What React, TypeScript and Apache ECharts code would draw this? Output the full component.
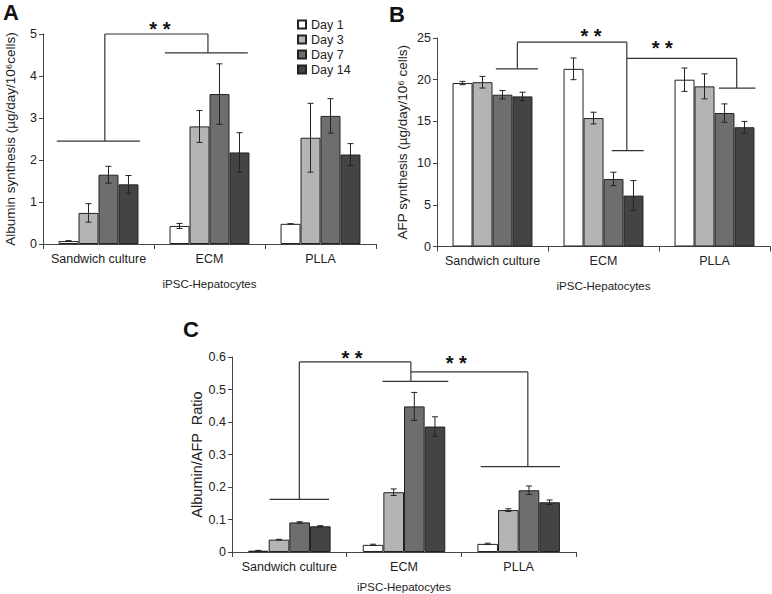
import React, { useEffect, useRef } from "react";
import * as echarts from "echarts";

const categories = ["Sandwich culture", "ECM", "PLLA"];
const days = ["Day 1", "Day 3", "Day 7", "Day 14"];
const dayColors = ["#ffffff", "#b4b4b4", "#6e6e6e", "#444444"];

// Panel A: albumin synthesis (per day: Sandwich, ECM, PLLA)
const albuminMeans = [
  [0.07, 0.43, 0.48],
  [0.74, 2.8, 2.53],
  [1.65, 3.57, 3.05],
  [1.42, 2.18, 2.13],
];
const albuminErrors = [
  [0.01, 0.06, 0.0],
  [0.22, 0.38, 0.82],
  [0.2, 0.72, 0.41],
  [0.21, 0.47, 0.26],
];

// Panel B: AFP synthesis
const afpMeans = [
  [19.6, 21.3, 20.0],
  [19.7, 15.4, 19.2],
  [18.2, 8.1, 16.0],
  [18.0, 6.1, 14.3],
];
const afpErrors = [
  [0.2, 1.3, 1.4],
  [0.7, 0.7, 1.5],
  [0.5, 0.8, 1.1],
  [0.5, 1.8, 0.7],
];

// Panel C: Albumin/AFP ratio
const ratioMeans = [
  [0.004, 0.022, 0.025],
  [0.038, 0.184, 0.129],
  [0.091, 0.448, 0.19],
  [0.079, 0.386, 0.153],
];
const ratioErrors = [
  [0.001, 0.002, 0.002],
  [0.001, 0.01, 0.004],
  [0.002, 0.043, 0.013],
  [0.002, 0.03, 0.007],
];

// Significance brackets: segments [x1, y1, x2, y2], x in category units (0..3)
const bracketsA = [
  [0.124, 2.45, 0.873, 2.45],
  [0.557, 2.45, 0.557, 5],
  [0.557, 5, 1.486, 5],
  [1.486, 5, 1.486, 4.55],
  [1.098, 4.55, 1.845, 4.55],
];
const bracketsB = [
  [0.53, 21.3, 0.91, 21.3],
  [0.724, 21.3, 0.724, 24.5],
  [0.724, 24.5, 1.71, 24.5],
  [1.71, 24.5, 1.71, 11.5],
  [1.574, 11.5, 1.862, 11.5],
  [1.71, 22.56, 2.7, 22.56],
  [2.7, 22.56, 2.7, 19.0],
  [2.54, 19.0, 2.868, 19.0],
];
const bracketsC = [
  [0.328, 0.162, 0.846, 0.162],
  [0.587, 0.162, 0.587, 0.585],
  [0.587, 0.585, 1.56, 0.585],
  [1.56, 0.585, 1.56, 0.525],
  [1.313, 0.525, 1.886, 0.525],
  [1.56, 0.554, 2.58, 0.554],
  [2.58, 0.554, 2.58, 0.263],
  [2.169, 0.263, 2.86, 0.263],
];
const starsA = [[1.053, 5.13]];
const starsB = [
  [1.387, 25.2],
  [2.03, 23.8],
];
const starsC = [
  [1.046, 0.598],
  [1.956, 0.583],
];

const FONT = "Liberation Sans, Arial, sans-serif";
const GAP = 0.28;

function buildPanel(
  g: number,
  means: number[][],
  errors: number[][],
  brackets: number[][],
  stars: number[][]
) {
  const series: any[] = [];
  days.forEach((d, i) => {
    series.push({
      type: "bar",
      name: d,
      xAxisIndex: g * 2,
      yAxisIndex: g,
      data: means[i],
      barGap: "0%",
      barCategoryGap: GAP * 100 + "%",
      itemStyle: { color: dayColors[i], borderColor: "#222", borderWidth: 1 },
    });
  });
  const errData: number[][] = [];
  days.forEach((_, i) => {
    categories.forEach((_, c) => {
      errData.push([c, i, means[i][c], errors[i][c]]);
    });
  });
  series.push({
    type: "custom",
    xAxisIndex: g * 2,
    yAxisIndex: g,
    clip: false,
    z: 5,
    encode: { x: 0, y: 2 },
    data: errData,
    renderItem: (params: any, api: any) => {
      const cat = api.value(0);
      const di = api.value(1);
      const v = api.value(2);
      const e = api.value(3);
      const c = api.coord([cat, v]);
      const band = api.size([1, 0])[0];
      const total = band * (1 - GAP);
      const bw = total / 4;
      const x = c[0] - total / 2 + (di + 0.5) * bw;
      const top = api.coord([cat, v + e])[1];
      const bot = api.coord([cat, v - e])[1];
      const st = { stroke: "#222", lineWidth: 1 };
      return {
        type: "group",
        children: [
          { type: "line", shape: { x1: x, y1: top, x2: x, y2: bot }, style: st },
          { type: "line", shape: { x1: x - 3, y1: top, x2: x + 3, y2: top }, style: st },
          { type: "line", shape: { x1: x - 3, y1: bot, x2: x + 3, y2: bot }, style: st },
        ],
      };
    },
  });
  series.push({
    type: "custom",
    xAxisIndex: g * 2 + 1,
    yAxisIndex: g,
    clip: false,
    z: 6,
    encode: { x: 0, y: 1 },
    data: brackets,
    renderItem: (params: any, api: any) => {
      const p1 = api.coord([api.value(0), api.value(1)]);
      const p2 = api.coord([api.value(2), api.value(3)]);
      return {
        type: "line",
        shape: { x1: p1[0], y1: p1[1], x2: p2[0], y2: p2[1] },
        style: { stroke: "#333", lineWidth: 1.2 },
      };
    },
  });
  series.push({
    type: "custom",
    xAxisIndex: g * 2 + 1,
    yAxisIndex: g,
    clip: false,
    z: 6,
    encode: { x: 0, y: 1 },
    data: stars,
    renderItem: (params: any, api: any) => {
      const p = api.coord([api.value(0), api.value(1)]);
      return {
        type: "text",
        x: p[0],
        y: p[1],
        style: {
          text: "* *",
          fontSize: 20,
          fontWeight: "bold",
          fontFamily: FONT,
          fill: "#111",
          align: "center",
          verticalAlign: "middle",
        },
      };
    },
  });
  return series;
}

export default function App() {
  const ref = useRef<HTMLDivElement>(null);
  useEffect(() => {
    if (!ref.current) return;
    const chart = echarts.init(ref.current, null, { renderer: "svg" });
    const grids = [
      { left: 43, top: 34, width: 333, height: 210 },
      { left: 437, top: 38, width: 333, height: 208.5 },
      { left: 232, top: 357, width: 344, height: 200 },
    ];
    const axisLine = { lineStyle: { color: "#444", width: 1 } };
    const labelStyle = { color: "#222", fontSize: 12.5, fontFamily: FONT };
    const xAxes: any[] = [];
    const xNameGaps = [34, 33, 29];
    grids.forEach((_, g) => {
      xAxes.push({
        type: "category",
        gridIndex: g,
        data: categories,
        axisLine,
        axisTick: { show: true, length: 5, lineStyle: { color: "#444" } },
        axisLabel: { ...labelStyle, margin: 8, interval: 0, hideOverlap: false },
        name: "iPSC-Hepatocytes",
        nameLocation: "middle",
        nameGap: xNameGaps[g],
        nameTextStyle: { color: "#222", fontSize: 11.5, fontFamily: FONT },
      });
      xAxes.push({ type: "value", gridIndex: g, min: 0, max: 3, show: false });
    });
    const yNames = [
      "Albumin synthesis (µg/day/10⁶cells)",
      "AFP synthesis (µg/day/10⁶ cells)",
      "Albumin/AFP  Ratio",
    ];
    const yMax = [5, 25, 0.6];
    const yInt = [1, 5, 0.1];
    const yNameGap = [26, 28, 28];
    const yNameSize = [13.5, 13.5, 14.5];
    const yAxes = grids.map((_, g) => ({
      type: "value",
      gridIndex: g,
      min: 0,
      max: yMax[g],
      interval: yInt[g],
      splitLine: { show: false },
      axisLine: { show: true, ...axisLine },
      axisTick: { show: true, length: 4, lineStyle: { color: "#444" } },
      axisLabel: { ...labelStyle, fontSize: 12.5, margin: 6 },
      name: yNames[g],
      nameLocation: "middle",
      nameRotate: 90,
      nameGap: yNameGap[g],
      nameTextStyle: { color: "#222", fontSize: yNameSize[g], fontFamily: FONT },
    }));
    const series = [
      ...buildPanel(0, albuminMeans, albuminErrors, bracketsA, starsA),
      ...buildPanel(1, afpMeans, afpErrors, bracketsB, starsB),
      ...buildPanel(2, ratioMeans, ratioErrors, bracketsC, starsC),
    ];
    chart.setOption({
      animation: false,
      backgroundColor: "#ffffff",
      grid: grids,
      xAxis: xAxes,
      yAxis: yAxes,
      legend: {
        data: days,
        orient: "vertical",
        left: 292,
        top: 13,
        icon: "rect",
        itemWidth: 8,
        itemHeight: 8,
        itemGap: 2,
        textStyle: { color: "#222", fontSize: 12.5, fontFamily: FONT },
      },
      graphic: [
        { type: "text", left: 3, top: 1, style: { text: "A", fontSize: 22, fontWeight: "bold", fontFamily: FONT, fill: "#111" } },
        { type: "text", left: 389, top: 3, style: { text: "B", fontSize: 22, fontWeight: "bold", fontFamily: FONT, fill: "#111" } },
        { type: "text", left: 183, top: 318, style: { text: "C", fontSize: 22, fontWeight: "bold", fontFamily: FONT, fill: "#111" } },
      ],
      series,
    });
    return () => chart.dispose();
  }, []);
  return (
    <div
      ref={ref}
      style={{ position: "fixed", left: 0, top: 0, width: 772, height: 594, background: "#fff" }}
    />
  );
}
